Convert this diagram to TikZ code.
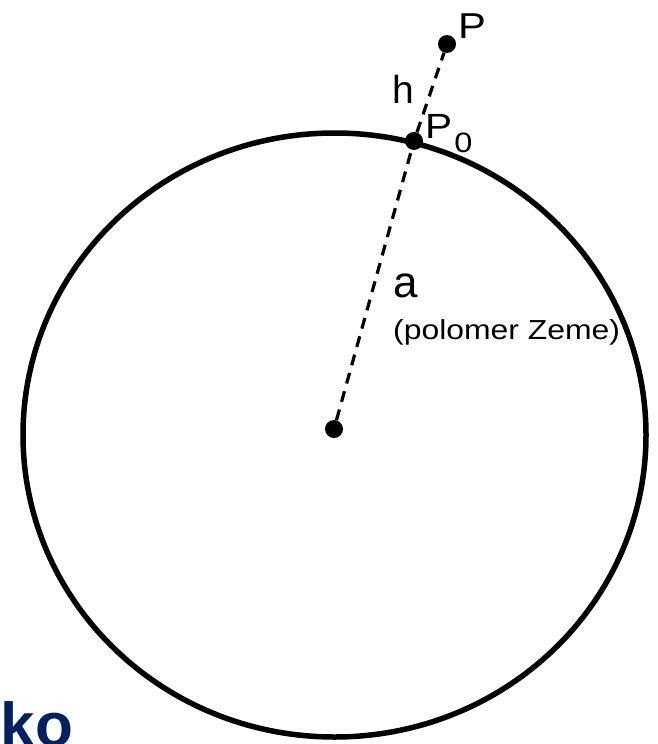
\documentclass[tikz,border=0pt]{standalone}
\usepackage{fontspec}
\setmainfont{Liberation Sans}
\newfontfamily\widefont[FakeStretch=1.16]{Liberation Sans}
\definecolor{kocolor}{RGB}{0,32,96}
\tikzset{
    % --- styles ---
    earth/.style={line width=5.5pt},
    radius_line/.style={line width=3.2pt, dash pattern=on 11pt off 8pt},
    point/.style={circle, fill, inner sep=0pt, minimum size=18pt},
    lbl/.style={anchor=base west, inner sep=0pt}
}
\begin{document}
\begin{tikzpicture}[x=1pt,y=-1pt]
    \useasboundingbox (0,0) rectangle (657,744);

    \draw[earth] (334.5,435) ellipse [x radius=311.5pt, y radius=302pt];

    \node[point] (O) at (334,429) {};
    \node[point] (P0) at (414,141) {};
    \node[point] (P) at (447,44) {};

    \draw[radius_line] (O) -- (P0);
    \draw[radius_line] (P0) -- (P);

    \node[lbl, font=\widefont\fontsize{36}{40}\selectfont] (labP) at (458,38) {P};
    \node[lbl, font=\fontsize{39}{42}\selectfont] (labh) at (392.5,103) {h};
    \node[lbl, font=\widefont\fontsize{35}{40}\selectfont] (labP0) at (425,138)
        {P\kern2pt\raisebox{-14pt}{\fontsize{28}{30}\selectfont 0}};
    \node[lbl, font=\fontsize{44}{46}\selectfont] (laba) at (393.5,297) {a};
    \node[lbl, font=\widefont\fontsize{27.5}{30}\selectfont] (labpol) at (393,339) {(polomer Zeme)};

    \node[lbl, font=\bfseries\fontsize{62}{66}\selectfont, text=kocolor] (labko) at (0.7,746) {ko};
\end{tikzpicture}
\end{document}
